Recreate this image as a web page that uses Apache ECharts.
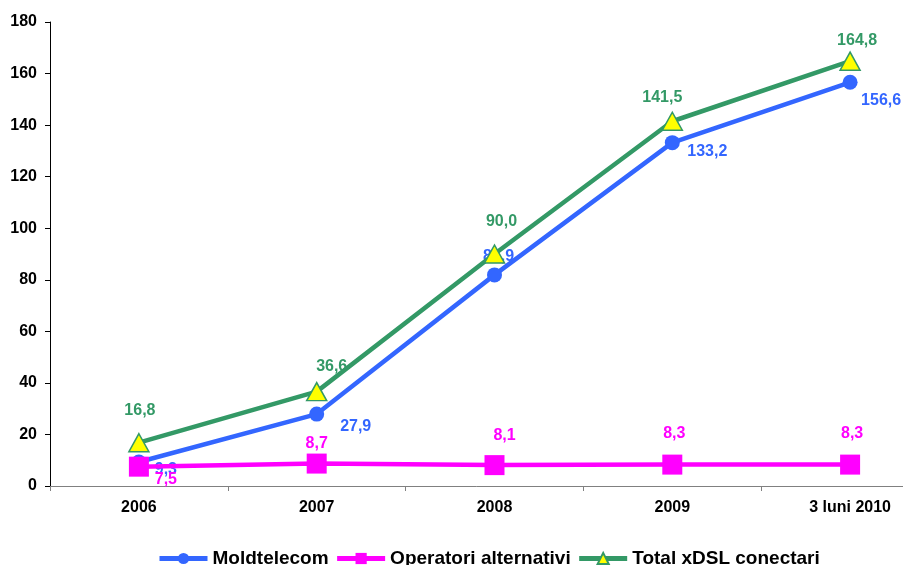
<!DOCTYPE html>
<html lang="ro">
<head>
    <meta charset="UTF-8">
    <title>Conectari xDSL</title>
    <script src="https://cdn.jsdelivr.net/npm/echarts@6/dist/echarts.min.js"></script>
    <style>
        html, body { margin: 0; padding: 0; background: #fff; }
        #chart { width: 903px; height: 565px; }
    </style>
</head>
<body>
    <div id="chart"></div>
    <script>
        // date
        const categories = ['2006', '2007', '2008', '2009', '3 luni 2010'];
        const moldtelecom = [9.3, 27.9, 81.9, 133.2, 156.6];
        const operatori = [7.5, 8.7, 8.1, 8.3, 8.3];
        const total = [16.8, 36.6, 90.0, 141.5, 164.8];
        const yTicks = [0, 20, 40, 60, 80, 100, 120, 140, 160, 180];

        // deplasarea etichetelor fata de punct
        const moldOffsets = [[27, 8], [39, 13], [4, -18], [35, 9], [31, 18]];
        const opOffsets = [[27, 13], [0, -20], [10, -30], [2, -31], [2, -31]];
        const totalOffsets = [[1, -32], [15, -25], [7, -32], [-10, -24], [7, -21]];

        const font = 'Liberation Sans, Arial, sans-serif';
        const cBlue = '#3366FF', cPink = '#FF00FF', cGreen = '#339966';

        function withLabels(values, offsets, color) {
            return values.map(function (v, i) {
                return {
                    value: v,
                    label: {
                        show: true,
                        position: 'inside',
                        offset: offsets[i],
                        color: color,
                        fontFamily: font,
                        fontWeight: 'bold',
                        fontSize: 16,
                        formatter: function (p) {
                            return p.value.toFixed(1).replace('.', ',');
                        }
                    }
                };
            });
        }

        const chart = echarts.init(document.getElementById('chart'));

        chart.setOption({
            animation: false,
            grid: {
                left: 50,
                top: 22,
                width: 889,
                bottom: 79,
                outerBoundsMode: 'none',
                containLabel: false
            },
            legend: {
                left: 157,
                top: 549,
                padding: 0,
                itemGap: 6,
                itemWidth: 48,
                itemHeight: 14,
                textStyle: {
                    fontFamily: font,
                    fontWeight: 'bold',
                    fontSize: 19,
                    color: '#000'
                },
                data: [
                    { name: 'Moldtelecom', lineStyle: { width: 5, color: cBlue } },
                    { name: 'Operatori alternativi', lineStyle: { width: 5, color: cPink } },
                    { name: 'Total xDSL conectari', lineStyle: { width: 5, color: cGreen } }
                ]
            },
            xAxis: {
                type: 'category',
                data: categories,
                boundaryGap: true,
                axisLine: { lineStyle: { color: '#808080', width: 1 } },
                axisTick: { show: true, length: 5, inside: false, lineStyle: { color: '#808080' } },
                axisLabel: {
                    margin: 14,
                    color: '#000',
                    fontFamily: font,
                    fontWeight: 'bold',
                    fontSize: 16
                },
                splitLine: { show: false }
            },
            yAxis: {
                type: 'value',
                min: yTicks[0],
                max: yTicks[yTicks.length - 1],
                interval: 20,
                axisLine: { show: true, lineStyle: { color: '#000', width: 1 } },
                axisTick: { show: true, length: 5, lineStyle: { color: '#000' } },
                axisLabel: {
                    margin: 13,
                    color: '#000',
                    fontFamily: font,
                    fontWeight: 'bold',
                    fontSize: 16
                },
                splitLine: { show: false }
            },
            series: [
                {
                    name: 'Moldtelecom',
                    type: 'line',
                    data: withLabels(moldtelecom, moldOffsets, cBlue),
                    symbol: 'circle',
                    symbolSize: 15,
                    lineStyle: { color: cBlue, width: 4.5 },
                    itemStyle: { color: cBlue },
                    z: 2
                },
                {
                    name: 'Operatori alternativi',
                    type: 'line',
                    data: withLabels(operatori, opOffsets, cPink),
                    symbol: 'rect',
                    symbolSize: 20,
                    lineStyle: { color: cPink, width: 4.5 },
                    itemStyle: { color: cPink },
                    z: 3
                },
                {
                    name: 'Total xDSL conectari',
                    type: 'line',
                    data: withLabels(total, totalOffsets, cGreen),
                    symbol: 'triangle',
                    symbolSize: [20, 18],
                    lineStyle: { color: cGreen, width: 4.5 },
                    itemStyle: { color: '#FFFF00', borderColor: cGreen, borderWidth: 1.5 },
                    z: 4
                }
            ]
        });
    </script>
</body>
</html>
